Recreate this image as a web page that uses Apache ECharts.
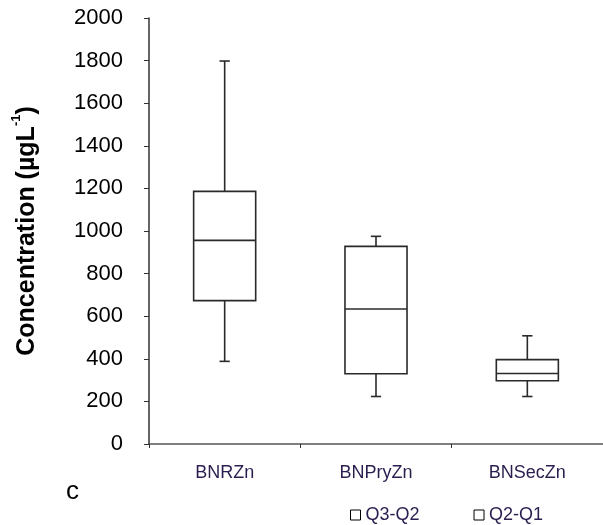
<!DOCTYPE html>
<html>
<head>
<meta charset="utf-8">
<script src="https://cdn.jsdelivr.net/npm/echarts@6/dist/echarts.min.js"></script>
<style>html,body{margin:0;padding:0;background:#fff;}#c{width:603px;height:525px;}</style>
</head>
<body>
<div id="c"></div>
<script>
var categories = ['BNRZn', 'BNPryZn', 'BNSecZn'];
var minVals = [388, 223, 223];
var q1Vals = [673, 330, 297];
var medianVals = [956, 634, 331];
var q3Vals = [1186, 928, 396];
var maxVals = [1798, 975, 508];
var yTicks = [0, 2000, 200];
var legendNames = ['Q3-Q2', 'Q2-Q1'];

var data = categories.map(function (c, i) {
  return [i, minVals[i], q1Vals[i], medianVals[i], q3Vals[i], maxVals[i]];
});

var FF = 'Liberation Sans, Arial, sans-serif';
var chart = echarts.init(document.getElementById('c'), null, {renderer: 'canvas'});
var lineStyle = {stroke: '#2a2a2a', lineWidth: 1.6, fill: null};
var option = {
  animation: false,
  backgroundColor: '#fff',
  textStyle: {fontFamily: FF},
  grid: {left: 149, right: 0, top: 18, bottom: 81, containLabel: false},
  legend: {
    data: legendNames,
    left: 350, top: 506, padding: 0,
    icon: 'rect', itemWidth: 10, itemHeight: 10, itemGap: 54,
    itemStyle: {color: '#fff', borderColor: '#000', borderWidth: 1},
    textStyle: {fontSize: 18, color: '#2b1d4f', fontFamily: FF}
  },
  xAxis: {
    type: 'category', data: categories, boundaryGap: true,
    axisLine: {lineStyle: {color: '#555', width: 1.5}},
    axisTick: {show: true, alignWithLabel: false, length: 4, lineStyle: {color: '#333'}},
    axisLabel: {fontSize: 18, color: '#2b1d4f', margin: 20}
  },
  yAxis: {
    type: 'value', min: yTicks[0], max: yTicks[1], interval: yTicks[2],
    splitLine: {show: false},
    axisLine: {show: true, lineStyle: {color: '#333', width: 1.5}},
    axisTick: {show: true, length: 5, lineStyle: {color: '#333'}},
    axisLabel: {fontSize: 22, color: '#000', margin: 26, formatter: function (v) { return String(v); }},
    name: '{n|Concentration (µgL}{s|-1}{n|)}',
    nameLocation: 'middle', nameRotate: 90, nameGap: 109,
    nameTextStyle: {
      rich: {
        n: {fontSize: 25, fontWeight: 'bold', color: '#000', fontFamily: FF, lineHeight: 30, verticalAlign: 'bottom'},
        s: {fontSize: 13, fontWeight: 'bold', color: '#000', fontFamily: FF, lineHeight: 30, verticalAlign: 'top'}
      }
    }
  },
  series: [
    {
      type: 'custom',
      name: 'box',
      data: data,
      encode: {x: 0, y: [1, 2, 3, 4, 5]},
      renderItem: function (params, api) {
        var i = api.value(0);
        var band = api.size([1, 0])[0];
        var half = band * 0.205;
        var cap = band * 0.034;
        var pMin = api.coord([i, api.value(1)]);
        var pQ1 = api.coord([i, api.value(2)]);
        var pMed = api.coord([i, api.value(3)]);
        var pQ3 = api.coord([i, api.value(4)]);
        var pMax = api.coord([i, api.value(5)]);
        var x = pMed[0];
        function line(x1, y1, x2, y2) {
          return {type: 'line', shape: {x1: x1, y1: y1, x2: x2, y2: y2}, style: lineStyle};
        }
        return {
          type: 'group',
          children: [
            {type: 'rect', shape: {x: x - half, y: pQ3[1], width: half * 2, height: pQ1[1] - pQ3[1]}, style: {stroke: '#2a2a2a', lineWidth: 1.6, fill: '#fff'}},
            line(x - half, pMed[1], x + half, pMed[1]),
            line(x, pQ3[1], x, pMax[1]),
            line(x, pQ1[1], x, pMin[1]),
            line(x - cap, pMax[1], x + cap, pMax[1]),
            line(x - cap, pMin[1], x + cap, pMin[1])
          ]
        };
      }
    },
    {type: 'bar', name: legendNames[0], data: []},
    {type: 'bar', name: legendNames[1], data: []}
  ],
  graphic: [
    {type: 'text', left: 66, top: 479, style: {text: 'c', fontSize: 26, fill: '#000', fontFamily: FF}}
  ]
};
chart.setOption(option);
</script>
</body>
</html>
